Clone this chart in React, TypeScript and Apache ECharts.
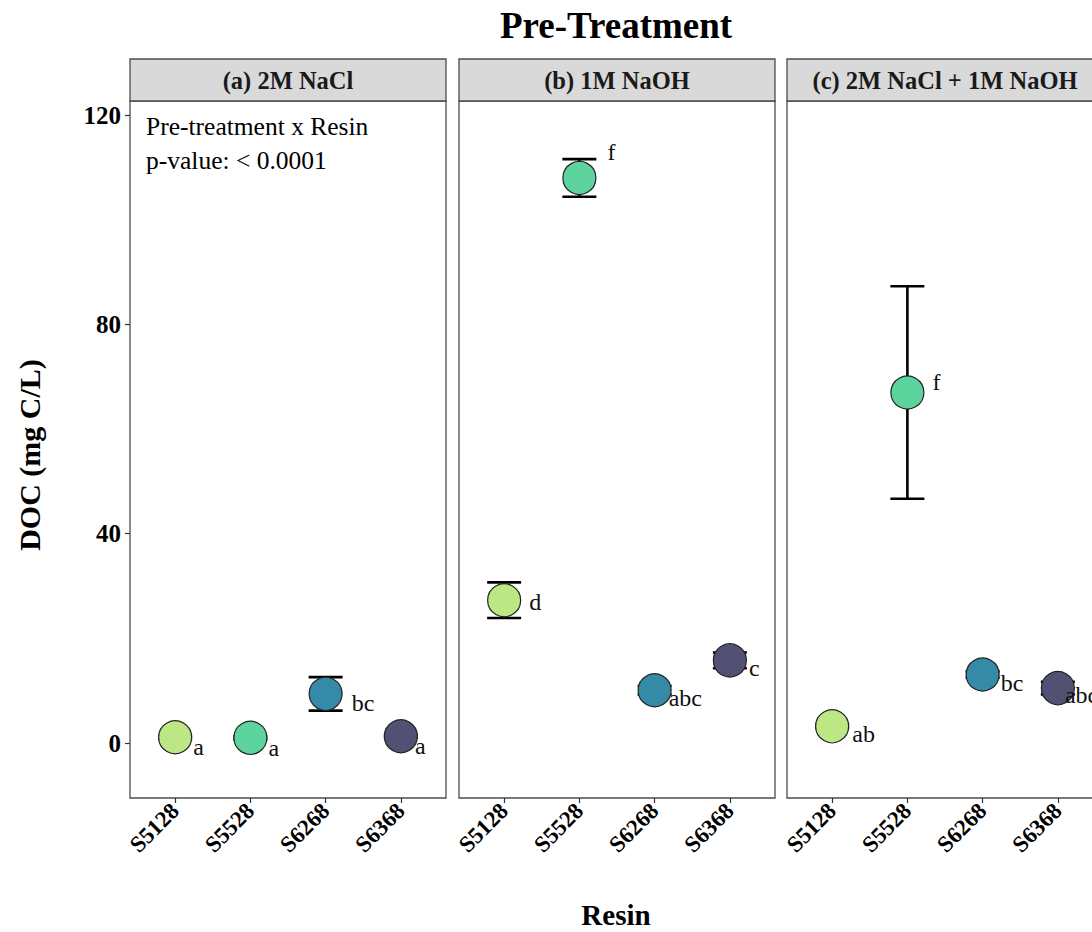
import React, { useEffect, useRef } from "react";
import * as echarts from "echarts";

// Facets (pre-treatments) and resins
const panels = ["(a) 2M NaCl", "(b) 1M NaOH", "(c) 2M NaCl + 1M NaOH"];
const resins = ["S5128", "S5528", "S6268", "S6368"];
const resinColors = ["#BCE784", "#5DD39E", "#348AA7", "#525174"];

// DOC (mg C/L): mean, standard deviation and significance letters per facet
const meanNaCl = [1.1, 1.0, 9.4, 1.3];
const sdNaCl = [0.3, 0.3, 3.2, 0.3];
const lettersNaCl = ["a", "a", "bc", "a"];

const meanNaOH = [27.3, 108.0, 10.1, 15.8];
const sdNaOH = [3.4, 3.6, 0.8, 1.5];
const lettersNaOH = ["d", "f", "abc", "c"];

const meanBoth = [3.2, 67.0, 13.1, 10.5];
const sdBoth = [0.3, 20.3, 0.6, 1.2];
const lettersBoth = ["ab", "f", "bc", "abc"];

const yTicks = [0, 40, 80, 120];
const xTicks = [1, 2, 3, 4];

// Letter label nudges (px) relative to the right edge of each point
const labelNudge = [
  [[1, 10], [1, 10], [9, 9], [-3, 10]],
  [[8, 2], [11, -26], [-3, 8], [2, 8]],
  [[3, 8], [8, -10], [1, 8], [-10, 7]],
];

const FONT = "'Liberation Serif', 'Times New Roman', serif";
const PANEL_LEFT = [130, 459, 787];
const PANEL_W = 316;
const PANEL_TOP = 101;
const PANEL_H = 697;
const STRIP_TOP = 59;
// The drawing surface is a little wider than the visible frame, so the
// third facet keeps its full width and is clipped at the right edge.
const CANVAS_W = 1110;
const VIEW_W = 1092;
const VIEW_H = 932;

export default function App() {
  const ref = useRef<HTMLDivElement>(null);

  useEffect(() => {
    if (!ref.current) return;
    const chart = echarts.init(ref.current, null, { renderer: "svg" });

    const facetData = [
      { mean: meanNaCl, sd: sdNaCl, letters: lettersNaCl },
      { mean: meanNaOH, sd: sdNaOH, letters: lettersNaOH },
      { mean: meanBoth, sd: sdBoth, letters: lettersBoth },
    ];

    const grids = PANEL_LEFT.map((left) => ({
      left,
      top: PANEL_TOP,
      width: PANEL_W,
      height: PANEL_H,
      show: true,
      borderColor: "#4d4d4d",
      borderWidth: 1.3,
      backgroundColor: "#fff",
    }));

    const xAxes = PANEL_LEFT.map((_, gi) => ({
      type: "value",
      gridIndex: gi,
      position: "bottom",
      min: 0.4,
      max: 4.6,
      axisLine: { show: false, onZero: false },
      splitLine: { show: false },
      axisTick: {
        show: true,
        customValues: xTicks,
        length: 5,
        lineStyle: { color: "#333", width: 1.2 },
      },
      axisLabel: {
        show: true,
        customValues: xTicks,
        rotate: 45,
        margin: 9,
        formatter: (v: number) => resins[Math.round(v) - 1] ?? "",
        fontFamily: FONT,
        fontWeight: "bold",
        fontSize: 23,
        color: "#000",
      },
    }));

    const yAxes = PANEL_LEFT.map((_, gi) => ({
      type: "value",
      gridIndex: gi,
      position: "left",
      min: -10.5,
      max: 122.7,
      axisLine: { show: false, onZero: false },
      splitLine: { show: false },
      axisTick: {
        show: gi === 0,
        customValues: yTicks,
        length: 5,
        lineStyle: { color: "#333", width: 1.2 },
      },
      axisLabel: {
        show: gi === 0,
        customValues: yTicks,
        margin: 9,
        fontFamily: FONT,
        fontWeight: "bold",
        fontSize: 25,
        color: "#000",
      },
    }));

    const series: any[] = [];
    facetData.forEach((fd, gi) => {
      series.push({
        type: "custom",
        xAxisIndex: gi,
        yAxisIndex: gi,
        z: 2,
        clip: false,
        encode: { x: 0, y: 1 },
        data: fd.mean.map((m, i) => [i + 1, m, fd.sd[i]]),
        renderItem: (_params: any, api: any) => {
          const x = api.value(0);
          const m = api.value(1);
          const s = api.value(2);
          const top = api.coord([x, m + s]);
          const bot = api.coord([x, m - s]);
          const hw = 17;
          const st = { stroke: "#000", lineWidth: 2.6 };
          return {
            type: "group",
            children: [
              { type: "line", shape: { x1: top[0], y1: top[1], x2: bot[0], y2: bot[1] }, style: st },
              { type: "line", shape: { x1: top[0] - hw, y1: top[1], x2: top[0] + hw, y2: top[1] }, style: st },
              { type: "line", shape: { x1: bot[0] - hw, y1: bot[1], x2: bot[0] + hw, y2: bot[1] }, style: st },
            ],
          };
        },
      });
      series.push({
        type: "scatter",
        xAxisIndex: gi,
        yAxisIndex: gi,
        z: 3,
        symbol: "circle",
        symbolSize: 33,
        itemStyle: { opacity: 1 },
        data: fd.mean.map((m, i) => ({
          value: [i + 1, m],
          itemStyle: { color: resinColors[i], borderColor: "#222", borderWidth: 1.2, opacity: 1 },
          label: { offset: labelNudge[gi][i] },
        })),
        label: {
          show: true,
          position: "right",
          distance: 0,
          formatter: (p: any) => fd.letters[p.dataIndex],
          fontFamily: FONT,
          fontSize: 24,
          color: "#111",
        },
      });
    });

    const graphics: any[] = [
      {
        type: "text",
        x: 616,
        y: 25,
        style: {
          text: "Pre-Treatment",
          fontFamily: FONT,
          fontWeight: "bold",
          fontSize: 37,
          fill: "#000",
          textAlign: "center",
          textVerticalAlign: "middle",
        },
      },
      {
        type: "text",
        x: 616,
        y: 915,
        style: {
          text: "Resin",
          fontFamily: FONT,
          fontWeight: "bold",
          fontSize: 29,
          fill: "#000",
          textAlign: "center",
          textVerticalAlign: "middle",
        },
      },
      {
        type: "text",
        x: 29,
        y: 455,
        rotation: Math.PI / 2,
        style: {
          text: "DOC (mg C/L)",
          fontFamily: FONT,
          fontWeight: "bold",
          fontSize: 30,
          fill: "#000",
          textAlign: "center",
          textVerticalAlign: "middle",
        },
      },
      {
        type: "text",
        x: 146,
        y: 126,
        style: {
          text: "Pre-treatment x Resin",
          fontFamily: FONT,
          fontSize: 25.5,
          fill: "#000",
          textAlign: "left",
          textVerticalAlign: "middle",
        },
        z: 10,
      },
      {
        type: "text",
        x: 146,
        y: 160,
        style: {
          text: "p-value: < 0.0001",
          fontFamily: FONT,
          fontSize: 25.5,
          fill: "#000",
          textAlign: "left",
          textVerticalAlign: "middle",
        },
        z: 10,
      },
    ];

    PANEL_LEFT.forEach((left, gi) => {
      graphics.push({
        type: "rect",
        shape: { x: left, y: STRIP_TOP, width: PANEL_W, height: PANEL_TOP - STRIP_TOP },
        style: { fill: "#D9D9D9", stroke: "#4d4d4d", lineWidth: 1.3 },
        z: 5,
      });
      graphics.push({
        type: "text",
        x: left + PANEL_W / 2,
        y: STRIP_TOP + (PANEL_TOP - STRIP_TOP) / 2,
        style: {
          text: panels[gi],
          fontFamily: FONT,
          fontWeight: "bold",
          fontSize: 24.5,
          fill: "#1a1a1a",
          textAlign: "center",
          textVerticalAlign: "middle",
        },
        z: 6,
      });
    });

    chart.setOption({
      animation: false,
      backgroundColor: "#fff",
      grid: grids,
      xAxis: xAxes,
      yAxis: yAxes,
      series,
      graphic: graphics,
    });

    return () => chart.dispose();
  }, []);

  return (
    <div
      style={{
        position: "fixed",
        left: 0,
        top: 0,
        width: VIEW_W,
        height: VIEW_H,
        overflow: "hidden",
        background: "#fff",
      }}
    >
      <div ref={ref} style={{ width: CANVAS_W, height: VIEW_H }} />
    </div>
  );
}
